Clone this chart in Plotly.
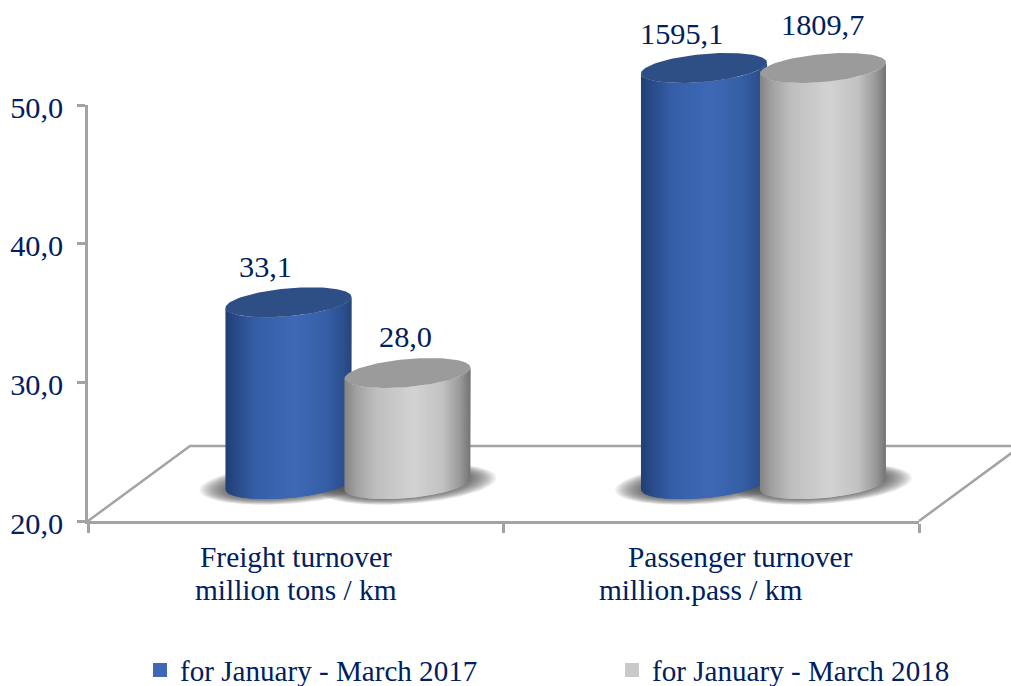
import numpy as np
import plotly.graph_objects as go

# ---- data ----
categories = [["Freight turnover", "million tons / km"],
              ["Passenger turnover", "million.pass / km"]]
series_names = ["for January - March 2017", "for January - March 2018"]
values_2017 = [33.1, 1595.1]
values_2018 = [28.0, 1809.7]
y_ticks = [20, 30, 40, 50]

# ---- layout constants ----
Y_MIN, Y_MAX = 20, 50
W, H = 1011, 686
ML, MR, MT, MB = 88, 92, 105, 165
PX_X = (W - ML - MR) / 2.0      # pixels per category
PX_Y = (H - MT - MB) / (Y_MAX - Y_MIN)  # pixels per y unit
TEXT = "#002060"
AXIS = "#a3a3a3"
AXIS_W = 2.5
FONT = "Liberation Serif"
FS_TEXT, FS_NUM, FS_LEGEND = 29.4, 30.3, 29.1

DEPTH_X, DEPTH_Y = 52.2 / PX_X, 37 / PX_Y   # cylinder centre shift into the floor
FLOOR_X, FLOOR_Y = 102 / PX_X, 75 / PX_Y    # floor depth
GAP = 59.5 / PX_X                            # series centre offset
A = 63 / PX_X                                # cylinder half width
B, S = 14 / PX_Y, 5.5 / PX_Y                 # ellipse half height, tilt

BLUE_STOPS = [(0, "#223f74"), (.1, "#2a4d8c"), (.25, "#3560a8"), (.55, "#3f69b6"),
              (.8, "#3560a6"), (.93, "#2d5090"), (1, "#274679")]
GREY_STOPS = [(0, "#858585"), (.1, "#a3a3a3"), (.25, "#bfbfbf"), (.55, "#d3d3d3"),
              (.78, "#c2c2c2"), (.92, "#999999"), (1, "#747474")]
BLUE_TOP, GREY_TOP = "#2e4f86", "#9b9b9b"
SWATCHES = ["#3f69b6", "#c9c9c9"]


def color_at(stops, u):
    pos = [p for p, _ in stops]
    rgb = np.array([[int(c[i:i + 2], 16) for i in (1, 3, 5)] for _, c in stops], float)
    return "rgb(%d,%d,%d)" % tuple(np.interp(u, pos, rgb[:, k]) for k in range(3))


def arc(cx, yc, us):
    us = np.asarray(us)
    return cx + A * us, yc + S * us - B * np.sqrt(np.clip(1 - us ** 2, 0, 1))


def ellipse(cx, yc, a, b, s, n=120):
    t = np.linspace(0, 2 * np.pi, n)
    return cx + a * np.cos(t), yc + s * np.cos(t) + b * np.sin(t)


fig = go.Figure()
# marks live on a hidden full-page pair of axes sharing the scale of the visible axes
common = dict(mode="lines", fill="toself", line=dict(width=0), hoverinfo="skip",
              showlegend=False, xaxis="x2", yaxis="y2")

# floor
fig.add_trace(go.Scatter(
    x=[2, 2 + FLOOR_X, FLOOR_X, 0], y=[Y_MIN, Y_MIN + FLOOR_Y, Y_MIN + FLOOR_Y, Y_MIN],
    mode="lines", line=dict(color=AXIS, width=AXIS_W), hoverinfo="skip",
    showlegend=False, xaxis="x2", yaxis="y2"))

# cylinders
cyl = []
for i in range(2):
    cyl.append((i + .5 + DEPTH_X - GAP, values_2017[i], BLUE_STOPS, BLUE_TOP))
    cyl.append((i + .5 + DEPTH_X + GAP, values_2018[i], GREY_STOPS, GREY_TOP))

# soft shadows under each cylinder
LAYERS = 14
for cx, v, _, _ in cyl:
    for k in range(LAYERS):
        f = k / (LAYERS - 1)
        xs, ys = ellipse(cx, Y_MIN + DEPTH_Y, A + (26 - 24 * f) / PX_X,
                         B + (6 - 6 * f) / PX_Y, S * 1.1)
        fig.add_trace(go.Scatter(x=xs, y=ys, fillcolor="rgba(70,70,70,0.075)", **common))

N = 60
edges = np.linspace(-1, 1, N + 1)
for cx, v, stops, top in cyl:
    base = Y_MIN + DEPTH_Y
    tip = min(v, Y_MAX) + DEPTH_Y
    for j in range(N):
        us = np.linspace(edges[j], edges[min(j + 2, N)], 8)
        xa, ya = arc(cx, tip, us)
        xb, yb = arc(cx, base, us)
        fig.add_trace(go.Scatter(
            x=np.r_[xa, xb[::-1]], y=np.r_[ya, yb[::-1]],
            fillcolor=color_at(stops, (j + .5) / N), **common))
    xt, yt = ellipse(cx, tip, A, B, S)
    fig.add_trace(go.Scatter(x=xt, y=yt, fillcolor=top, **common))

# legend entries (on the visible axes so that subplot exists)
for name, col, lg in zip(series_names, SWATCHES, ("legend", "legend2")):
    fig.add_trace(go.Scatter(x=[None], y=[None], mode="markers", name=name, legend=lg,
                             marker=dict(symbol="square", size=14, color=col)))

annotations = []
# value labels
label_dx = [-22.5, -1.5, -22.5, 0]
label_dy = [35, 36, 34, 43]
labels = [values_2017[0], values_2018[0], values_2017[1], values_2018[1]]
for (cx, v, _, _), val, dx, dy in zip(cyl, labels, label_dx, label_dy):
    annotations.append(dict(
        x=cx, y=min(v, Y_MAX) + DEPTH_Y, xref="x2", yref="y2", showarrow=False,
        text=f"{val:.1f}".replace(".", ","), xshift=dx, yshift=dy,
        xanchor="center", yanchor="middle", font=dict(family=FONT, size=FS_NUM, color=TEXT)))
# category labels
line_dx = [[0, 0], [29, -11]]
line_dy = [-36, -69]
for i, lines in enumerate(categories):
    for j, line in enumerate(lines):
        annotations.append(dict(
            x=i + .5, y=Y_MIN, xref="x2", yref="y2", showarrow=False, text=line,
            xshift=line_dx[i][j], yshift=line_dy[j], xanchor="center", yanchor="middle",
            font=dict(family=FONT, size=FS_TEXT, color=TEXT)))

legend_style = dict(orientation="h", xanchor="left", yanchor="middle", borderwidth=0,
                    bgcolor="rgba(0,0,0,0)", y=1 - 670 / H,
                    font=dict(family=FONT, size=FS_LEGEND, color=TEXT))

fig.update_layout(
    width=W, height=H, autosize=False,
    margin=dict(l=0, r=0, t=0, b=0, pad=0, autoexpand=False),
    paper_bgcolor="white", plot_bgcolor="rgba(0,0,0,0)",
    separators=", ",
    annotations=annotations,
    font=dict(family=FONT, size=FS_TEXT, color=TEXT),
    xaxis=dict(domain=[ML / W, 1 - MR / W], range=[0, 2], tickvals=[0, 1, 2],
               ticktext=["", "", ""], ticks="outside",
               ticklen=9, tickwidth=AXIS_W, tickcolor=AXIS, showgrid=False, zeroline=False,
               showline=True, linecolor=AXIS, linewidth=AXIS_W),
    yaxis=dict(domain=[MB / H, 1 - MT / H], range=[Y_MIN, Y_MAX], tickvals=y_ticks,
               tickformat=".1f", ticks="outside",
               ticklen=8, tickwidth=AXIS_W, tickcolor=AXIS, showgrid=False, zeroline=False,
               showline=True, linecolor=AXIS, linewidth=AXIS_W, ticklabelstandoff=8,
               ticklabelshift=2,
               tickfont=dict(family=FONT, size=FS_NUM, color=TEXT)),
    xaxis2=dict(domain=[0, 1], range=[-ML / PX_X, 2 + MR / PX_X], visible=False, anchor="y2"),
    yaxis2=dict(domain=[0, 1], range=[Y_MIN - MB / PX_Y, Y_MAX + MT / PX_Y], visible=False,
                anchor="x2"),
    legend=dict(x=140 / W, **legend_style),
    legend2=dict(x=612 / W, **legend_style),
    showlegend=True,
)
fig.write_html("out.html", config={"displayModeBar": False},
               default_width=f"{W}px", default_height=f"{H}px",
               post_script="document.body.style.margin='0';document.body.style.overflow='hidden';")
